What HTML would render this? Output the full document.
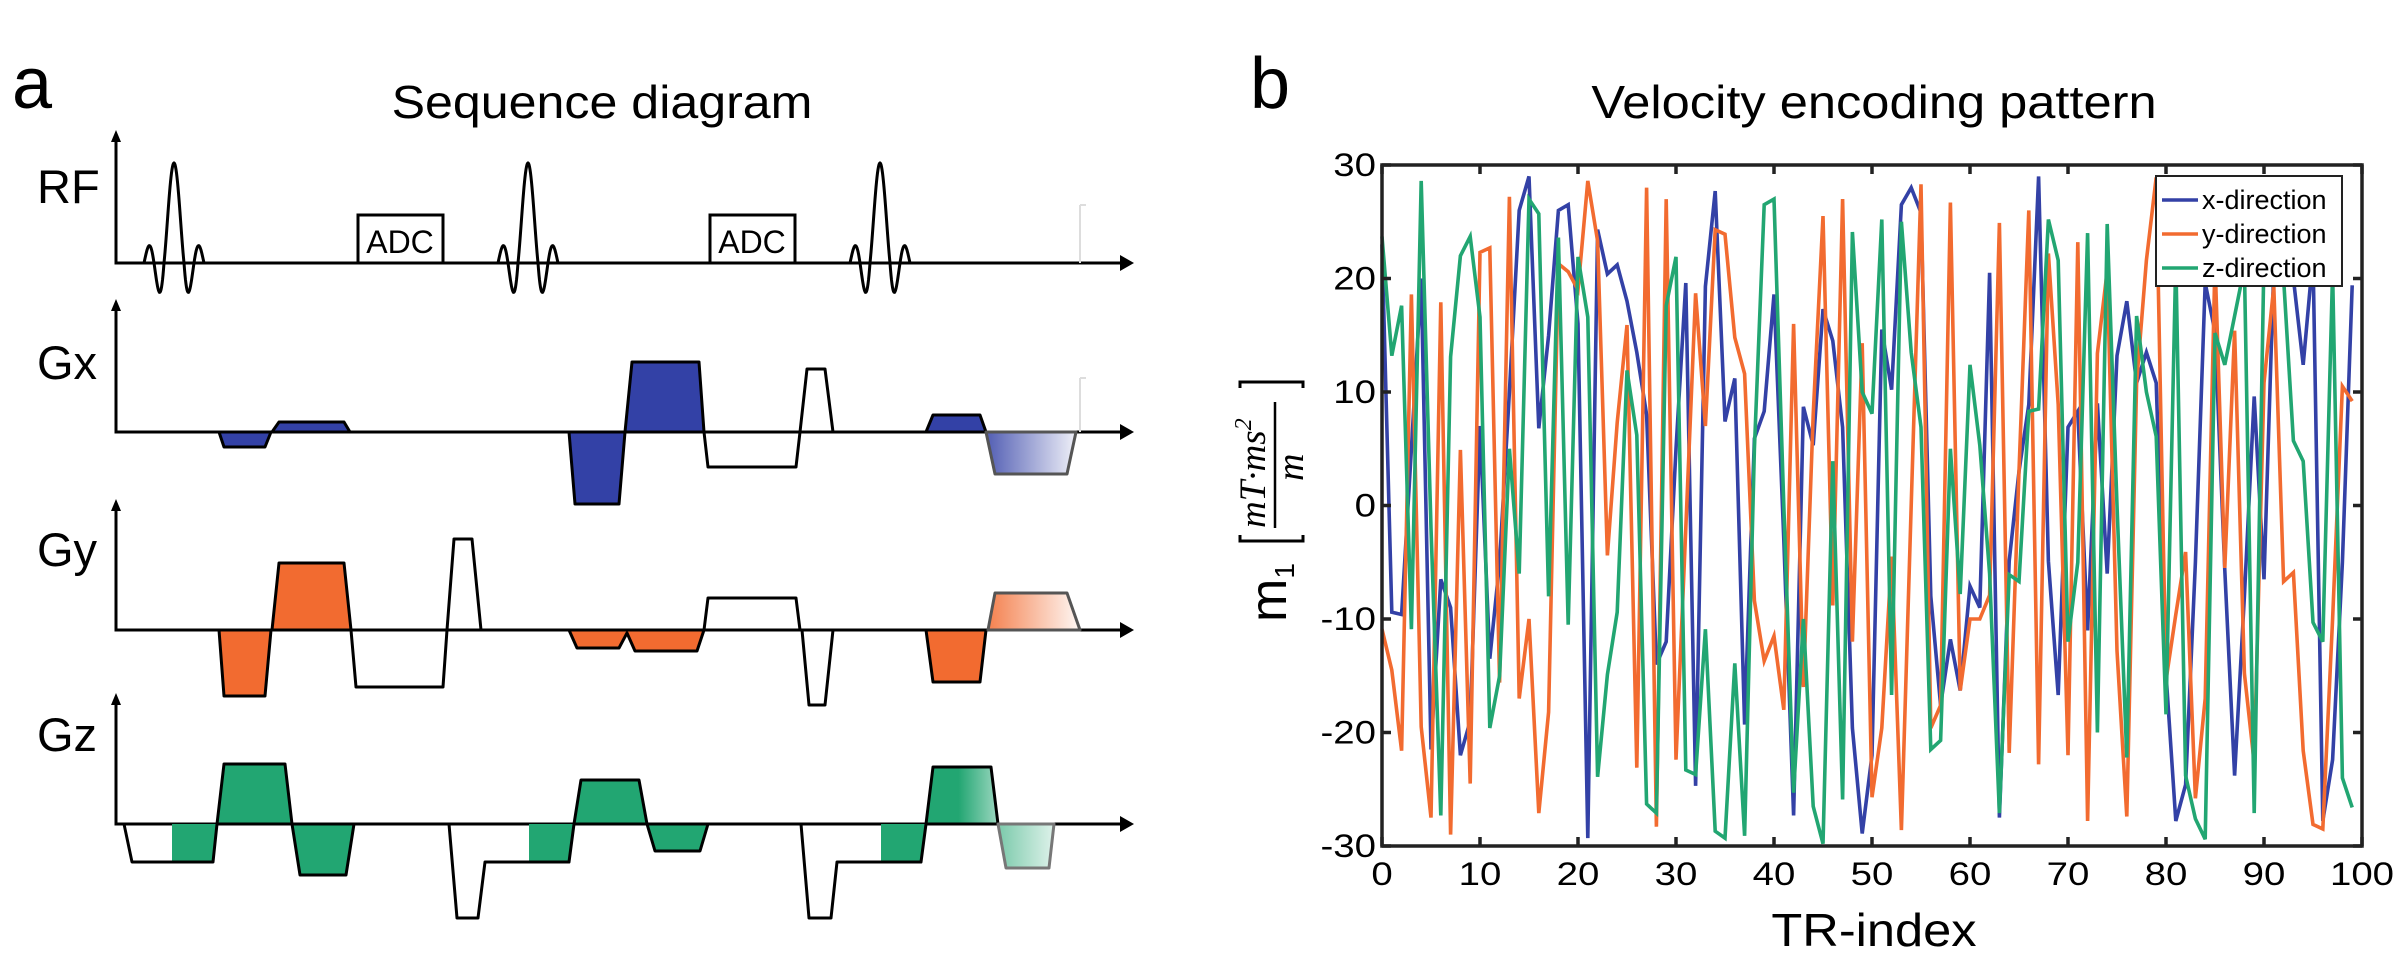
<!DOCTYPE html>
<html><head><meta charset="utf-8"><title>Sequence diagram and velocity encoding</title>
<style>
html,body{margin:0;padding:0;background:#fff;}
svg{display:block;font-family:"Liberation Sans",Arial,sans-serif;}
</style></head>
<body>
<svg id="fig" width="2401" height="971" viewBox="0 0 2401 971" xmlns="http://www.w3.org/2000/svg">
<defs>
<linearGradient id="gBlue" x1="0" x2="1" y1="0" y2="0"><stop offset="0" stop-color="#3341A6" stop-opacity="0.85"/><stop offset="1" stop-color="#3341A6" stop-opacity="0.08"/></linearGradient>
<linearGradient id="gOrange" x1="0" x2="1" y1="0" y2="0"><stop offset="0" stop-color="#F26B30" stop-opacity="0.85"/><stop offset="1" stop-color="#F26B30" stop-opacity="0.05"/></linearGradient>
<linearGradient id="gGreen" x1="0" x2="1" y1="0" y2="0"><stop offset="0" stop-color="#22A672"/><stop offset="0.45" stop-color="#22A672"/><stop offset="1" stop-color="#22A672" stop-opacity="0.45"/></linearGradient>
<linearGradient id="gGreen2" x1="0" x2="1" y1="0" y2="0"><stop offset="0" stop-color="#22A672" stop-opacity="0.6"/><stop offset="1" stop-color="#22A672" stop-opacity="0.15"/></linearGradient>
</defs>

<!-- Panel a -->
<g>
<text x="12" y="108" font-size="72">a</text>
<text transform="translate(602,118) scale(1.09,1)" text-anchor="middle" font-size="46">Sequence diagram</text>

<g fill="none" stroke="#000" stroke-width="3">
<path d="M116,138 V263 H1122"/>
<path d="M116,307 V432 H1122"/>
<path d="M116,507 V630 H1122"/>
<path d="M116,701 V824 H1122"/>
</g>
<g fill="#000">
<path d="M1120,255 L1134,263 L1120,271Z"/><path d="M1120,424 L1134,432 L1120,440Z"/>
<path d="M1120,622 L1134,630 L1120,638Z"/><path d="M1120,816 L1134,824 L1120,832Z"/>
<path d="M111,142 L116,130 L121,142Z"/><path d="M111,311 L116,299 L121,311Z"/>
<path d="M111,511 L116,499 L121,511Z"/><path d="M111,705 L116,693 L121,705Z"/>
</g>
<text x="37" y="203" font-size="47">RF</text>
<text x="37" y="379" font-size="47">Gx</text>
<text x="37" y="566" font-size="47">Gy</text>
<text x="37" y="751" font-size="47">Gz</text>

<g id="rfpulses" fill="none" stroke="#000" stroke-width="3"></g>
<g><rect x="358" y="215" width="85" height="48" fill="#fff" stroke="#000" stroke-width="3"/><text x="400" y="253" font-size="32" text-anchor="middle">ADC</text></g>
<g><rect x="710" y="215" width="85" height="48" fill="#fff" stroke="#000" stroke-width="3"/><text x="752" y="253" font-size="32" text-anchor="middle">ADC</text></g>
<path d="M1080,205 V263 M1080,205 H1086" stroke="#ddd" stroke-width="2" fill="none"/>
<path d="M1080,378 V432 M1080,378 H1086" stroke="#ddd" stroke-width="2" fill="none"/>

<g stroke="#000" stroke-width="3" stroke-linejoin="round">
<polygon fill="#3341A6" points="219,432 224,447 265,447 271,432"/>
<polygon fill="#3341A6" points="272,432 279,422 344,422 350,432"/>
<polygon fill="#3341A6" points="569,432 575,504 619,504 625,432"/>
<polygon fill="#3341A6" points="625,432 632,362 699,362 704,432"/>
<polyline fill="none" points="704,432 708,467 796,467 800,432"/>
<polyline fill="none" points="800,432 807,369 825,369 833,432"/>
<polygon fill="#3341A6" points="926,432 933,415 980,415 986,432"/>
<polygon fill="url(#gBlue)" stroke="#555" points="986,432 995,474 1067,474 1076,432"/>
</g>
<g stroke="#000" stroke-width="3" stroke-linejoin="round">
<polygon fill="#F26B30" points="219,630 224,696 265,696 271,630"/>
<polygon fill="#F26B30" points="272,630 279,563 344,563 351,630"/>
<polyline fill="none" points="351,630 356,687 443,687 447,630"/>
<polyline fill="none" points="447,630 454,539 472,539 481,630"/>
<polygon fill="#F26B30" points="569,630 577,648 619,648 627,633 635,651 697,651 704,630"/>
<polyline fill="none" points="704,630 708,598 796,598 800,630"/>
<polyline fill="none" points="802,630 809,705 825,705 833,630"/>
<polygon fill="#F26B30" points="926,630 933,682 980,682 986,630"/>
<polygon fill="url(#gOrange)" stroke="#555" points="988,630 995,593 1067,593 1080,630"/>
</g>
<g stroke="#000" stroke-width="3" stroke-linejoin="round">
<polygon fill="#22A672" stroke="none" points="172,824 172,862 213,862 217,824"/>
<polyline fill="none" points="124,824 132,862 213,862 217,824"/>
<polygon fill="#22A672" points="217,824 224,764 285,764 292,824"/>
<polygon fill="#22A672" points="292,824 300,875 346,875 354,824"/>
<polygon fill="#22A672" stroke="none" points="529,824 529,862 569,862 574,824"/>
<polyline fill="none" points="449,824 457,918 478,918 485,862 569,862 574,824"/>
<polygon fill="#22A672" points="574,824 581,780 639,780 647,824"/>
<polygon fill="#22A672" points="647,824 655,851 700,851 708,824"/>
<polygon fill="#22A672" stroke="none" points="881,824 881,862 921,862 926,824"/>
<polyline fill="none" points="801,824 809,918 831,918 837,862 921,862 926,824"/>
<polygon fill="url(#gGreen)" points="926,824 933,767 991,767 998,824"/>
<polygon fill="url(#gGreen2)" stroke="#777" points="998,824 1006,868 1049,868 1054,824"/>
</g>
</g>

<!-- Panel b -->
<g>
<text x="1250" y="108" font-size="72">b</text>
<text transform="translate(1874,118) scale(1.1,1)" text-anchor="middle" font-size="46">Velocity encoding pattern</text>
<g id="plot"></g>
<text transform="translate(1874,946) scale(1.1,1)" text-anchor="middle" font-size="46">TR-index</text>
<g>
<text transform="translate(1286,622) rotate(-90)" font-size="52">m<tspan font-size="28" dy="8">1</tspan></text>
<path d="M1240,390 V384 H1303 V390 M1240,537 V543 H1303 V537" fill="none" stroke="#000" stroke-width="3" transform="translate(0,-2)"/>
<line x1="1275" y1="402" x2="1275" y2="528" stroke="#000" stroke-width="2.5"/>
<text transform="translate(1265,528) rotate(-90)" font-size="37" font-style="italic" font-family="Liberation Serif, serif">mT·ms<tspan font-size="24" dy="-14">2</tspan></text>
<text transform="translate(1303,481) rotate(-90)" font-size="38" font-style="italic" font-family="Liberation Serif, serif">m</text>
</g>
</g>
</svg>
<script>
// ---- chart data ----
const trIndex = Array.from({length:100},(_, i)=>i);
const xTicks = [0,10,20,30,40,50,60,70,80,90,100];
const yTicks = [30,20,10,0,-10,-20,-30];
const xDirection = [23,-9.4,-9.6,5,20,-21.5,-6.5,-9,-22,-19,7,-13.5,-5,10,26,29,6.8,15,26,26.5,
 16,-29.3,24.3,20.4,21.2,18,13.5,8,-14,-12,5,19.6,-24.7,19.3,27.7,7.4,11.2,-19.3,5.9,8.3,
 18.6,-3,-27.3,8.7,5.3,17.3,14.5,6.9,-19.6,-28.9,-22,15.5,10.2,26.5,28,25.8,-8,-17.6,-11.8,-16.3,
 -7.1,-9,20.5,-27.5,-4.9,3,8.9,29,-4.9,-16.7,6.9,8.3,-11,9,-6,13.2,18,10.8,13.5,10.8,
 -14.8,-27.8,-24.6,-5,19.6,15.3,-5.7,-23.8,-8,9.6,-6.5,21,20,20,12.4,22,-27.8,-22.4,-5,19.4];
const yDirection = [-10.9,-14.5,-21.6,18.6,-19.5,-27.5,17.9,-29,4.9,-24.5,22.3,22.7,-15.6,27.2,-17,-10,-27.1,-18.2,21.3,20.6,
 19,28.6,23.3,-4.4,7.3,15.9,-23.1,28,-28.3,27,-22.4,-2,18.7,7,24.3,23.9,14.8,11.6,-8.4,-13.7,
 -11.5,-18,16,-16,8,25.5,-8.8,27,-12,14.3,-25.7,-19.6,-4.5,-28.6,0,28.3,-19.6,-17.6,26.7,-16.3,
 -10,-10,-7.9,24.9,-21.8,3,26,-22.8,22.2,8.9,-22,23.2,-27.8,13.4,20.7,-12.8,-27.4,10.8,21.6,28.9,
 -15.4,-9.6,-4.1,-25.8,-17,21.6,-5.5,15.4,-14.8,-22.7,10.8,19.3,-6.7,-5.9,-21.6,-28.1,-28.5,-10,10.5,9.2];
const zDirection = [23.7,13.2,17.6,-10.9,28.6,-2,-27.3,13.1,22,23.7,16.6,-19.6,-15,5,-6,27,25.7,-8,23.6,-10.5,
 21.9,16.6,-23.9,-14.9,-9.4,11.9,6.2,-26.3,-27.1,17.6,21.9,-23.3,-23.7,-10.9,-28.7,-29.3,-13.9,-29.1,5,26.5,
 27,0,-25.3,-10,-26.5,-29.8,3.9,-25.9,24.1,10,8.1,25.2,-16.7,25,13.5,6.9,-21.5,-20.7,5,-7.8,
 12.4,5.3,-6,-27.1,-6.1,-6.7,8.3,8.5,25.2,21.6,-12,-5,24,-20,24.8,0,-22.2,16.7,10,6.1,
 -18.4,21.7,-23.8,-27.6,-29.4,15.2,12.4,16.7,21,-27.1,22,20,20,5.7,3.9,-10.3,-12,20.6,-24,-26.6];
const seriesNames = ["x-direction","y-direction","z-direction"];
const seriesColors = ["#3341A6","#F26B30","#22A672"];

// ---- axes ----
const L=1382,R=2362,T=165,B=846;
const xMin=0,xMax=100,yMin=-30,yMax=30;
const sx=v=>L+(v-xMin)/(xMax-xMin)*(R-L);
const sy=v=>B-(v-yMin)/(yMax-yMin)*(B-T);
const NS="http://www.w3.org/2000/svg";
const plot=document.getElementById('plot');
function mk(tag,attrs,parent){const e=document.createElementNS(NS,tag);for(const k in attrs)e.setAttribute(k,attrs[k]);(parent||plot).appendChild(e);return e;}

const bg=mk('rect',{x:L,y:T,width:R-L,height:B-T,fill:'#fff'});



const series=[xDirection,yDirection,zDirection];
series.forEach((vals,si)=>{
  const d=vals.map((v,i)=>(i?'L':'M')+sx(trIndex[i]).toFixed(1)+','+sy(v).toFixed(1)).join(' ');
  const p=mk('path',{d:d,fill:'none',stroke:seriesColors[si],'stroke-width':3.6,'stroke-linejoin':'miter','stroke-miterlimit':4});
  
  
});

const frame=mk('rect',{x:L,y:T,width:R-L,height:B-T,fill:'none',stroke:'#222','stroke-width':3.5});



xTicks.forEach(t=>{
  const x=sx(t);
  const tk=mk('path',{d:`M${x},${B} V${B-9} M${x},${T} V${T+9}`,stroke:'#222','stroke-width':3.5});
  
  
  const lb=mk('text',{transform:`translate(${x},885) scale(1.2,1)`,'text-anchor':'middle','font-size':32});
  lb.textContent=t;
  
  
});
yTicks.forEach(t=>{
  const y=sy(t);
  const tk=mk('path',{d:`M${L},${y} H${L+9} M${R},${y} H${R-9}`,stroke:'#222','stroke-width':3.5});
  
  
  const lb=mk('text',{transform:`translate(1376,${y+11}) scale(1.2,1)`,'text-anchor':'end','font-size':32});
  lb.textContent=t;
  
  
});

// legend
const lg=mk('g',{});


mk('rect',{x:2156,y:176,width:186,height:110,fill:'#fff',stroke:'#222','stroke-width':2},lg);
seriesNames.forEach((n,i)=>{
  const yy=200+i*34;
  const e=mk('g',{},lg);
  
  
  mk('line',{x1:2162,x2:2198,y1:yy,y2:yy,stroke:seriesColors[i],'stroke-width':3.5},e);
  const t=mk('text',{x:2202,y:yy+9,'font-size':27},e);
  t.textContent=n;
});

// RF pulses (diagram shape)
const rf=document.getElementById('rfpulses');
const rfCenters=[174,528,880];
rfCenters.forEach(c=>{
  let d='';
  for(let k=0;k<=120;k++){
    const t=-3+6*k/120;
    const s=t===0?1:Math.sin(Math.PI*t)/(Math.PI*t);
    const amp=Math.abs(t)>1?1.35:1;
    d+=(k?'L':'M')+(c+t*10).toFixed(1)+','+(263-100*s*amp).toFixed(1)+' ';
  }
  const p=document.createElementNS(NS,'path');
  p.setAttribute('d',d);
  
  
  rf.appendChild(p);
});
</script>
</body></html>
